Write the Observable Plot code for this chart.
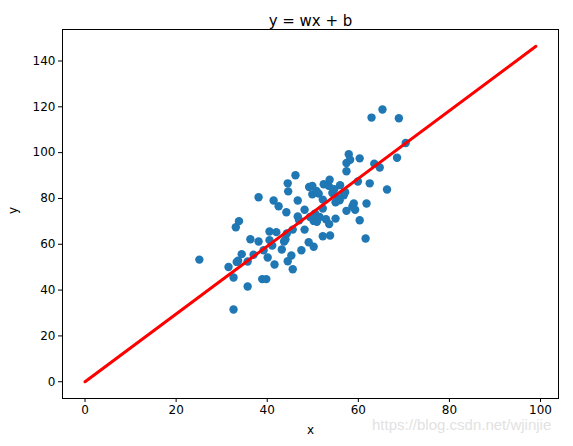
<!DOCTYPE html>
<html>
<head>
<meta charset="utf-8">
<script src="https://cdn.jsdelivr.net/npm/d3@7"></script>
<script src="https://cdn.jsdelivr.net/npm/@observablehq/plot@0.6"></script>
<style>
  html, body { margin: 0; padding: 0; background: #fff; }
  #wrap { position: relative; width: 573px; height: 446px; }
  #wm { position: absolute; left: 372px; top: 416px; font-family: "Liberation Sans", Arial, sans-serif; font-size: 15px; color: #e2e2e2; white-space: nowrap; }
</style>
</head>
<body>
<div id="wrap"><div id="wm">https://blog.csdn.net/wjinjie</div></div>
<script>
// scatter data
const xs = [25.1,31.5,32.6,32.6,33.1,33.8,34.4,33.6,35.7,35.7,36.3,37.0,38.1,38.1,38.9,39.8,39.2,40.1,40.5,41.1,
            41.4,41.6,42.0,42.5,43.2,43.7,44.2,44.5,44.6,44.5,45.6,45.3,46.2,46.7,46.7,45.6,44.3,48.2,48.2,47.5,
            49.1,50.2,49.2,49.9,49.9,50.8,49.4,50.2,50.9,51.5,52.2,52.2,52.2,52.4,53.7,53.5,52.9,53.6,53.8,54.3,
            55.0,55.0,56.0,55.9,56.8,57.1,57.4,57.4,57.4,57.9,58.2,59.0,59.3,59.9,60.3,60.3,61.6,61.8,62.5,62.9,
            63.5,64.7,65.3,66.3,68.5,68.9,70.4,50.5,40.5,44.0,33.3,51.3,58.7,55.6,47.0,54.7];
const ys = [53.3,50.1,45.5,31.5,67.4,70.1,55.7,52.8,52.5,41.6,62.2,55.4,80.5,61.2,44.8,44.8,57.4,54.2,65.6,59.4,
            79.1,51.2,65.3,76.6,57.7,61.2,74.0,86.6,83.1,52.6,49.1,55.1,90.1,79.1,72.1,66.4,64.7,75.1,66.4,57.4,
            60.9,58.9,85.0,85.5,81.8,83.3,71.9,70.2,69.8,71.9,79.5,75.6,63.5,86.2,88.2,85.5,70.9,68.8,63.8,82.4,
            78.3,71.2,85.8,79.2,81.4,82.7,74.6,91.9,95.5,99.3,96.9,77.8,75.1,87.4,97.5,70.5,62.5,77.8,86.6,115.3,
            95.2,93.5,118.8,83.9,97.8,115.0,104.2,73.4,61.8,62.1,52.3,82.1,76.5,80.0,70.5,84.0];
// fitted line parameters
const w = 1.479;
const b = 0.0;
const lineX = [0, 99];
const xTicks = [0, 20, 40, 60, 80, 100];
const yTicks = [0, 20, 40, 60, 80, 100, 120, 140];
const titleText = "y = wx + b";

const points = xs.map((x, i) => ({x, y: ys[i]}));
const linePts = lineX.map(x => ({x, y: w * x + b}));

const chart = Plot.plot({
  width: 573,
  height: 446,
  marginLeft: 62,
  marginRight: 15,
  marginTop: 29,
  marginBottom: 48,
  style: {fontFamily: "DejaVu Sans, sans-serif", fontSize: "12px", color: "#000", background: "#fff"},
  x: {domain: [-4.95, 103.95]},
  y: {domain: [-7.32, 153.75]},
  marks: [
    Plot.dot(points, {x: "x", y: "y", r: 4.2, fill: "#1f77b4", stroke: "none"}),
    Plot.line(linePts, {x: "x", y: "y", stroke: "red", strokeWidth: 3}),
    Plot.frame({stroke: "#000", strokeWidth: 1}),
    Plot.axisX({ticks: xTicks, tickSize: 4, tickPadding: 3, label: null, stroke: "#000"}),
    Plot.axisY({ticks: yTicks, tickSize: 4, tickPadding: 3, label: null, stroke: "#000"}),
    Plot.text([titleText], {frameAnchor: "top", dy: -14, fontSize: 15, fill: "#000"}),
    Plot.text(["x"], {frameAnchor: "bottom", dy: 35, fontSize: 12, fill: "#000"}),
    Plot.text(["y"], {frameAnchor: "left", dx: -49, rotate: -90, fontSize: 12, fill: "#000"})
  ]
});
document.getElementById("wrap").prepend(chart);
</script>
</body>
</html>
